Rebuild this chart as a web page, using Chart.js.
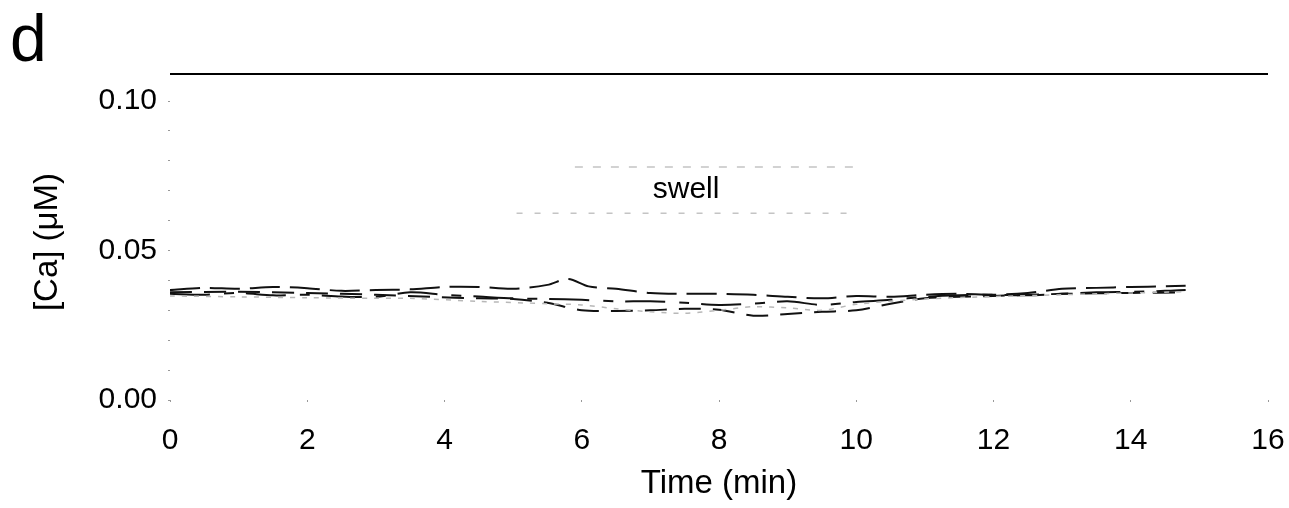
<!DOCTYPE html>
<html>
<head>
<meta charset="utf-8">
<script src="https://cdn.jsdelivr.net/npm/chart.js@4.4.1/dist/chart.umd.min.js"></script>
<style>
  html, body { margin: 0; padding: 0; background: #fff; }
  #wrap { width: 1289px; height: 508px; }
</style>
</head>
<body>
<div id="wrap"><canvas id="c" width="1289" height="508"></canvas></div>
<script>
// Time axis (min) and calcium traces ([Ca], µM) for four cells
const xTicks = [0, 2, 4, 6, 8, 10, 12, 14, 16];
const yTickLabels = ['0.00', '0.05', '0.10'];
const xTitle = 'Time (min)';
const yTitle = '[Ca] (μM)';
const panelLetter = 'd';

const cell1Time = [0,0.5,1,1.5,2,2.5,3,3.5,4,4.5,5,5.5,5.8,6.1,6.5,7,7.5,8,8.5,9,9.5,10,10.5,11,11.5,12,12.5,13,13.5,14,14.5,14.8];
const cell1Ca   = [0.0368,0.0375,0.0372,0.0378,0.0374,0.0365,0.0368,0.0370,0.0378,0.0378,0.0372,0.0385,0.0405,0.0380,0.0372,0.0358,0.0355,0.0355,0.0352,0.0345,0.0340,0.0348,0.0345,0.0352,0.0355,0.0352,0.0358,0.0372,0.0375,0.0378,0.0380,0.0382];

const cell2Time = [0,0.5,1,1.5,2,2.5,3,3.5,4,4.5,5,5.5,6,6.5,7,7.5,8,8.5,9,9.5,10,10.5,11,11.5,12,12.5,13,13.5,14,14.5,14.8];
const cell2Ca   = [0.0355,0.0352,0.0358,0.0350,0.0352,0.0346,0.0345,0.0360,0.0352,0.0346,0.0340,0.0338,0.0335,0.0330,0.0330,0.0325,0.0318,0.0322,0.0330,0.0318,0.0328,0.0335,0.0345,0.0350,0.0352,0.0350,0.0355,0.0360,0.0362,0.0365,0.0368];

const cell3Time = [0,1,2,3,3.8,4.5,5,5.5,6,6.5,7,7.5,8,8.5,9,9.5,10,10.5,11,12,13,14,14.8];
const cell3Ca   = [0.0360,0.0362,0.0358,0.0352,0.0345,0.0340,0.0338,0.0325,0.0300,0.0298,0.0300,0.0305,0.0302,0.0282,0.0288,0.0295,0.0300,0.0322,0.0340,0.0348,0.0355,0.0358,0.0360];

const cell4Time = [0,1,2,3,3.5,4.5,5.5,6,6.5,7,7.5,8,8.5,9,9.5,10,11,12,13,14,14.8];
const cell4Ca   = [0.0348,0.0345,0.0342,0.0340,0.0340,0.0330,0.0322,0.0318,0.0305,0.0295,0.0290,0.0300,0.0312,0.0308,0.0300,0.0320,0.0338,0.0346,0.0352,0.0358,0.0362];

// Bath solution bar across the top, and the swell period bracket
const barTime = [0, 16];
const barLevel = 0.109;
const swellUpperTime = [5.9, 10.0];
const swellUpperLevel = 0.0779;
const swellLowerTime = [5.05, 10.0];
const swellLowerLevel = 0.0625;
const swellLabel = 'swell';
const swellLabelAt = { t: 7.52, ca: 0.0702 };

const pts = (xs, ys) => xs.map((x, i) => ({ x, y: ys[i] }));
const flat = (xs, v) => xs.map(x => ({ x, y: v }));

const FONT = '"Liberation Sans", Arial, sans-serif';

// Panel letter, swell label and the rotated y-axis title
const panelText = {
  id: 'panelText',
  afterDraw(chart) {
    const ctx = chart.ctx;
    const xs = chart.scales.x, ys = chart.scales.y;
    ctx.save();
    ctx.fillStyle = '#000';
    ctx.font = '66px ' + FONT;
    ctx.textAlign = 'left';
    ctx.textBaseline = 'alphabetic';
    ctx.fillText(panelLetter, 10, 61);

    ctx.font = '30px ' + FONT;
    ctx.textAlign = 'center';
    ctx.textBaseline = 'middle';
    ctx.fillText(swellLabel, xs.getPixelForValue(swellLabelAt.t), ys.getPixelForValue(swellLabelAt.ca));

    ctx.translate(48, 242);
    ctx.rotate(-Math.PI / 2);
    ctx.font = '33px ' + FONT;
    ctx.fillText(yTitle, 0, 0);
    ctx.restore();
  }
};

const lineDs = (data, color, width, dash) => ({
  data, borderColor: color, borderWidth: width, borderDash: dash,
  pointRadius: 0, tension: 0.3, fill: false
});

new Chart(document.getElementById('c'), {
  type: 'line',
  data: {
    datasets: [
      lineDs(pts(cell4Time, cell4Ca), '#b8b8b8', 1.5, [5, 7]),
      lineDs(pts(cell3Time, cell3Ca), '#111', 2, [22, 12]),
      lineDs(pts(cell2Time, cell2Ca), '#111', 2, [40, 14, 10, 12]),
      lineDs(pts(cell1Time, cell1Ca), '#111', 2, [30, 10]),
      Object.assign(lineDs(flat(barTime, barLevel), '#000', 2, []), { clip: false, tension: 0 }),
      Object.assign(lineDs(flat(swellUpperTime, swellUpperLevel), '#c4c4c4', 1.5, [8, 10]), { tension: 0 }),
      Object.assign(lineDs(flat(swellLowerTime, swellLowerLevel), '#c4c4c4', 1.5, [6, 12]), { tension: 0 })
    ]
  },
  options: {
    responsive: false,
    animation: false,
    layout: { padding: { top: 101, right: 21, left: 0, bottom: 0 } },
    plugins: { legend: { display: false }, tooltip: { enabled: false } },
    scales: {
      x: {
        type: 'linear', min: 0, max: 16,
        border: { display: false },
        grid: { drawOnChartArea: false, drawTicks: true, tickLength: 2, tickColor: '#999', lineWidth: 1 },
        afterBuildTicks: s => { s.ticks = xTicks.map(v => ({ value: v })); },
        ticks: { color: '#000', font: { family: FONT, size: 30 }, padding: 21, maxRotation: 0, autoSkip: false,
                 callback: v => String(v) },
        title: { display: true, text: xTitle, color: '#000', font: { family: FONT, size: 33 }, padding: { top: 0, bottom: 4 } },
        afterFit: s => { s.height = 108; s.paddingLeft = 0; s.paddingRight = 0; }
      },
      y: {
        type: 'linear', min: 0, max: 0.1,
        border: { display: false },
        grid: { drawOnChartArea: false, drawTicks: true, tickLength: 2, tickColor: '#999', lineWidth: 1 },
        ticks: { stepSize: 0.01, color: '#000', font: { family: FONT, size: 30 }, padding: 11, autoSkip: false,
                 callback: v => {
                   const k = Math.round(v * 100);
                   return k % 5 === 0 ? yTickLabels[k / 5] : '';
                 } },
        title: { display: false },
        afterFit: s => { s.width = 170; s.paddingTop = 0; s.paddingBottom = 0; }
      }
    }
  },
  plugins: [panelText]
});
</script>
</body>
</html>
